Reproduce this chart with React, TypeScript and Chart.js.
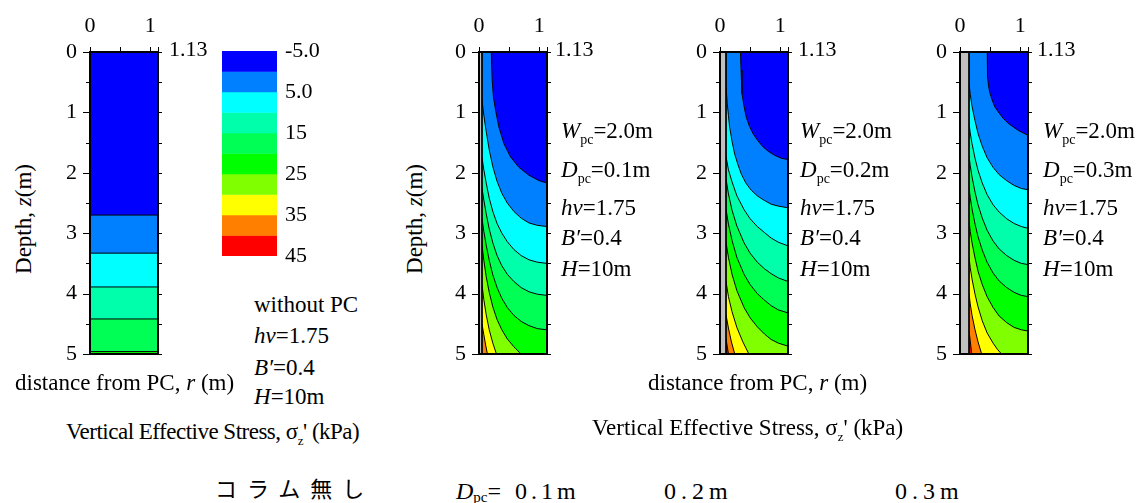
import React, { useEffect, useRef } from 'react';
import { Chart, registerables } from 'chart.js';

Chart.register(...registerables);

const SERIF = '"Liberation Serif", "Times New Roman", serif';
const CJK = '"Noto Sans CJK JP", sans-serif';
Chart.defaults.font.family = SERIF;

// ---------- axes ----------
const R_MAX = 1.13;
const Z_MAX = 5;
const xTickValues = [0, 0.5, 1, 1.13];
const xLabelValues = [0, 1];
const yTickValues = [0, 0.5, 1, 1.5, 2, 2.5, 3, 3.5, 4, 4.5, 5];

// ---------- colour scale (kPa) ----------
const bandEdges = [-5, 0, 5, 10, 15, 20, 25, 30, 35, 40, 45];
const bandColors = ['#0000ff', '#0080ff', '#00ffff', '#00ffaa', '#00ff55', '#00ff00', '#80ff00', '#ffff00', '#ff8000', '#ff0000'];
const legendTickValues = [-5, 5, 15, 25, 35, 45];
const legendTickLabels = ['-5.0', '5.0', '15', '25', '35', '45'];

// ---------- panel 1: without PC (depths of band boundaries, m) ----------
const noPcDepths = [2.70, 3.33, 3.89, 4.42, 4.96];

// ---------- PC radii (m) ----------
const pc01Radius = 0.05;
const pc02Radius = 0.1;
const pc03Radius = 0.15;

// ---------- contour lines [r, z] : Dpc = 0.1 m ----------
const pc01L0 = [[0.205, 0], [0.21, 0.2], [0.218, 0.45], [0.24, 0.75], [0.277, 0.97], [0.33, 1.24], [0.415, 1.52], [0.526, 1.74], [0.664, 1.91], [0.83, 2.04], [1.0, 2.13], [1.13, 2.17]];
const pc01L5 = [[0.05, 0.8], [0.08, 1.05], [0.12, 1.32], [0.17, 1.62], [0.23, 1.9], [0.3, 2.14], [0.38, 2.34], [0.47, 2.5], [0.58, 2.64], [0.7, 2.75], [0.83, 2.83], [0.97, 2.87], [1.13, 2.89]];
const pc01L10 = [[0.05, 1.75], [0.08, 1.95], [0.12, 2.17], [0.17, 2.42], [0.23, 2.64], [0.3, 2.84], [0.38, 3.0], [0.47, 3.14], [0.58, 3.27], [0.7, 3.37], [0.83, 3.44], [0.97, 3.48], [1.13, 3.5]];
const pc01L15 = [[0.05, 2.25], [0.08, 2.45], [0.12, 2.68], [0.17, 2.93], [0.23, 3.16], [0.3, 3.37], [0.38, 3.54], [0.47, 3.68], [0.58, 3.8], [0.7, 3.9], [0.83, 3.97], [0.97, 4.01], [1.13, 4.03]];
const pc01L20 = [[0.05, 2.75], [0.08, 2.97], [0.12, 3.2], [0.17, 3.45], [0.23, 3.69], [0.3, 3.9], [0.38, 4.08], [0.47, 4.23], [0.58, 4.36], [0.7, 4.46], [0.83, 4.53], [0.97, 4.58], [1.13, 4.6]];
const pc01L25 = [[0.05, 3.2], [0.08, 3.45], [0.12, 3.72], [0.17, 3.98], [0.23, 4.22], [0.3, 4.43], [0.38, 4.6], [0.47, 4.75], [0.58, 4.88], [0.7, 5.0]];
const pc01L30 = [[0.05, 3.85], [0.08, 4.1], [0.12, 4.35], [0.17, 4.6], [0.23, 4.82], [0.29, 5.0]];
const pc01L35 = [[0.05, 4.5], [0.08, 4.68], [0.11, 4.85], [0.14, 5.0]];

// ---------- contour lines [r, z] : Dpc = 0.2 m ----------
const pc02L0 = [[0.34, 0], [0.35, 0.3], [0.365, 0.69], [0.4, 0.9], [0.437, 1.08], [0.49, 1.23], [0.548, 1.35], [0.63, 1.47], [0.714, 1.57], [0.81, 1.65], [0.908, 1.71], [1.02, 1.76], [1.13, 1.78]];
const pc02L5 = [[0.1, 0.58], [0.12, 0.85], [0.14, 1.05], [0.16, 1.24], [0.2, 1.48], [0.244, 1.69], [0.3, 1.87], [0.354, 2.02], [0.43, 2.17], [0.52, 2.29], [0.63, 2.39], [0.742, 2.46], [0.85, 2.52], [0.963, 2.55], [1.13, 2.58]];
const pc02L10 = [[0.1, 1.73], [0.14, 1.95], [0.2, 2.15], [0.28, 2.38], [0.4, 2.61], [0.5, 2.76], [0.62, 2.89], [0.74, 2.99], [0.85, 3.08], [0.97, 3.15], [1.13, 3.21]];
const pc02L15 = [[0.1, 2.1], [0.14, 2.35], [0.2, 2.62], [0.28, 2.88], [0.4, 3.16], [0.5, 3.33], [0.62, 3.48], [0.74, 3.59], [0.85, 3.67], [0.97, 3.74], [1.13, 3.8]];
const pc02L20 = [[0.1, 2.6], [0.14, 2.85], [0.2, 3.12], [0.28, 3.4], [0.4, 3.68], [0.5, 3.85], [0.62, 4.0], [0.74, 4.11], [0.85, 4.2], [0.97, 4.27], [1.13, 4.32]];
const pc02L25 = [[0.1, 3.15], [0.14, 3.4], [0.2, 3.68], [0.28, 3.95], [0.4, 4.23], [0.5, 4.4], [0.62, 4.55], [0.74, 4.67], [0.85, 4.76], [0.97, 4.82], [1.13, 4.87]];
const pc02L30 = [[0.1, 3.8], [0.14, 4.05], [0.2, 4.3], [0.28, 4.56], [0.38, 4.8], [0.48, 5.0]];
const pc02L35 = [[0.1, 4.35], [0.14, 4.57], [0.19, 4.8], [0.245, 5.0]];
const pc02L40 = [[0.1, 4.75], [0.12, 4.87], [0.14, 5.0]];

// ---------- contour lines [r, z] : Dpc = 0.3 m ----------
const pc03L0 = [[0.453, 0], [0.455, 0.2], [0.46, 0.41], [0.475, 0.57], [0.5, 0.69], [0.54, 0.81], [0.58, 0.91], [0.65, 1.01], [0.72, 1.1], [0.8, 1.18], [0.886, 1.24], [0.97, 1.3], [1.05, 1.34], [1.13, 1.38]];
const pc03L5 = [[0.15, 0.52], [0.17, 0.7], [0.2, 0.9], [0.25, 1.14], [0.3, 1.35], [0.37, 1.56], [0.45, 1.75], [0.55, 1.91], [0.65, 2.03], [0.775, 2.13], [0.9, 2.21], [1.02, 2.26], [1.13, 2.28]];
const pc03L10 = [[0.15, 1.18], [0.17, 1.34], [0.2, 1.52], [0.25, 1.76], [0.3, 1.96], [0.37, 2.17], [0.45, 2.36], [0.55, 2.53], [0.65, 2.65], [0.775, 2.76], [0.9, 2.84], [1.02, 2.89], [1.13, 2.92]];
const pc03L15 = [[0.15, 1.72], [0.17, 1.88], [0.2, 2.07], [0.25, 2.32], [0.3, 2.53], [0.37, 2.75], [0.45, 2.95], [0.55, 3.13], [0.65, 3.26], [0.775, 3.37], [0.9, 3.45], [1.02, 3.5], [1.13, 3.52]];
const pc03L20 = [[0.15, 2.25], [0.17, 2.41], [0.2, 2.6], [0.25, 2.85], [0.3, 3.06], [0.37, 3.28], [0.45, 3.48], [0.55, 3.66], [0.65, 3.79], [0.775, 3.9], [0.9, 3.98], [1.02, 4.03], [1.13, 4.05]];
const pc03L25 = [[0.15, 2.8], [0.17, 2.97], [0.2, 3.16], [0.25, 3.41], [0.3, 3.63], [0.37, 3.85], [0.45, 4.05], [0.55, 4.23], [0.65, 4.37], [0.775, 4.48], [0.9, 4.56], [1.02, 4.6], [1.13, 4.62]];
const pc03L30 = [[0.15, 3.4], [0.17, 3.57], [0.2, 3.76], [0.25, 4.01], [0.3, 4.22], [0.37, 4.45], [0.45, 4.65], [0.55, 4.82], [0.62, 4.92], [0.69, 5.0]];
const pc03L35 = [[0.15, 4.0], [0.17, 4.17], [0.2, 4.36], [0.25, 4.6], [0.3, 4.8], [0.36, 5.0]];
const pc03L40 = [[0.15, 4.62], [0.17, 4.78], [0.195, 5.0]];

const pc01Contours = [pc01L0, pc01L5, pc01L10, pc01L15, pc01L20, pc01L25, pc01L30, pc01L35];
const pc02Contours = [pc02L0, pc02L5, pc02L10, pc02L15, pc02L20, pc02L25, pc02L30, pc02L35, pc02L40];
const pc03Contours = [pc03L0, pc03L5, pc03L10, pc03L15, pc03L20, pc03L25, pc03L30, pc03L35, pc03L40];

const panelDpcLabels = ['0.1m', '0.2m', '0.3m'];

type Pt = { x: number; y: number };

const toPts = (arr: number[][]): Pt[] => arr.map(([r, z]) => ({ x: r, y: z }));

function regionOf(arr: number[][], rPC: number): Pt[] {
  const poly = toPts(arr);
  const first = arr[0];
  const last = arr[arr.length - 1];
  if (last[0] >= R_MAX - 1e-9) poly.push({ x: R_MAX, y: Z_MAX });
  poly.push({ x: rPC, y: Z_MAX });
  if (first[1] <= 1e-9 && first[0] > rPC) poly.push({ x: rPC, y: 0 });
  return poly;
}

const tickFont = { family: SERIF, size: 22 };

const framePlugin = {
  id: 'frameTicks',
  afterDraw(chart: any) {
    const { ctx, chartArea: a, scales } = chart;
    const x = scales.x;
    const y = scales.y;
    ctx.save();
    ctx.strokeStyle = '#000';
    ctx.lineWidth = 1;
    ctx.beginPath();
    for (const v of yTickValues) {
      const py = Math.round(y.getPixelForValue(v)) + 0.5;
      const major = Number.isInteger(v);
      ctx.moveTo(a.left - (major ? 7 : 4), py);
      ctx.lineTo(a.left, py);
      ctx.moveTo(a.right, py);
      ctx.lineTo(a.right + 4, py);
    }
    for (const v of xTickValues) {
      const px = Math.round(x.getPixelForValue(v)) + 0.5;
      ctx.moveTo(px, a.top);
      ctx.lineTo(px, a.top - 5);
    }
    ctx.stroke();
    ctx.lineWidth = 2;
    ctx.strokeRect(a.left, a.top, a.right - a.left, a.bottom - a.top);
    ctx.restore();
  },
};

const PANEL_TOP = 52;
const PANEL_BOTTOM = 354;
const PANEL_W = 68;
const Y_AXIS_W = 45;
const PAD_RIGHT = 24;
const PAD_BOTTOM = 30;

function ContourPanel({ left, rPC, contours }: { left: number; rPC: number; contours: number[][][] }) {
  const ref = useRef<HTMLCanvasElement>(null);
  const cw = Y_AXIS_W + PANEL_W + PAD_RIGHT;
  const ch = PANEL_BOTTOM + PAD_BOTTOM;
  useEffect(() => {
    const datasets: any[] = [];
    datasets.push({
      data: [{ x: rPC, y: 0 }, { x: R_MAX, y: 0 }, { x: R_MAX, y: Z_MAX }, { x: rPC, y: Z_MAX }],
      fill: 'shape', backgroundColor: bandColors[0], borderColor: 'rgba(0,0,0,0)', borderWidth: 0, order: 1000,
    });
    contours.forEach((c, k) => {
      datasets.push({
        data: regionOf(c, rPC), fill: 'shape', backgroundColor: bandColors[k + 1],
        borderColor: 'rgba(0,0,0,0)', borderWidth: 0, order: 900 - k,
      });
    });
    contours.forEach((c) => {
      datasets.push({ data: toPts(c), fill: false, borderColor: '#000', borderWidth: 1, order: 20 });
    });
    if (rPC > 0) {
      datasets.push({
        data: [{ x: 0, y: 0 }, { x: rPC, y: 0 }, { x: rPC, y: Z_MAX }, { x: 0, y: Z_MAX }],
        fill: 'shape', backgroundColor: '#c0c0c0', borderColor: '#000', borderWidth: 1, order: 5,
      });
    }
    const chart = new Chart(ref.current as HTMLCanvasElement, {
      type: 'line',
      data: { datasets },
      options: {
        responsive: false,
        animation: false,
        devicePixelRatio: 1,
        events: [],
        layout: { padding: { left: 0, top: 0, right: PAD_RIGHT, bottom: PAD_BOTTOM }, autoPadding: false },
        elements: { point: { radius: 0 }, line: { tension: 0 } },
        plugins: { legend: { display: false }, tooltip: { enabled: false } },
        scales: {
          x: {
            type: 'linear', position: 'top', min: 0, max: R_MAX,
            grid: { display: false, drawTicks: false }, border: { display: false },
            afterBuildTicks: (s: any) => { s.ticks = xTickValues.map((v) => ({ value: v })); },
            afterFit: (s: any) => { s.height = PANEL_TOP; },
            ticks: {
              autoSkip: false, maxRotation: 0, padding: 13, font: tickFont, color: '#000',
              callback: (v: any) => (xLabelValues.includes(Number(v)) ? String(v) : ''),
            },
          },
          y: {
            type: 'linear', reverse: true, min: 0, max: Z_MAX,
            grid: { display: false, drawTicks: false }, border: { display: false },
            afterBuildTicks: (s: any) => { s.ticks = yTickValues.map((v) => ({ value: v })); },
            afterFit: (s: any) => { s.width = Y_AXIS_W; },
            ticks: {
              autoSkip: false, padding: 13, font: tickFont, color: '#000',
              callback: (v: any) => (Number.isInteger(Number(v)) ? String(v) : ''),
            },
          },
        },
      } as any,
      plugins: [framePlugin],
    });
    return () => chart.destroy();
  }, []);
  return (
    <canvas ref={ref} width={cw} height={ch}
      style={{ position: 'absolute', left: left - Y_AXIS_W, top: 0, width: cw, height: ch }} />
  );
}

function ColorLegend() {
  const ref = useRef<HTMLCanvasElement>(null);
  const L = 222, T = 51, W = 55, H = 205;
  const pl = 10, pt = 30, pb = 30, axisW = 60;
  const cw = pl + W + axisW;
  const ch = pt + H + pb;
  useEffect(() => {
    const chart = new Chart(ref.current as HTMLCanvasElement, {
      type: 'bar',
      data: {
        labels: [''],
        datasets: bandColors.map((c, i) => ({
          data: [[bandEdges[i], bandEdges[i + 1]]],
          backgroundColor: c, borderWidth: 0, grouped: false,
          barPercentage: 1, categoryPercentage: 1,
        })),
      },
      options: {
        responsive: false,
        animation: false,
        devicePixelRatio: 1,
        events: [],
        layout: { padding: { left: pl, top: pt, right: 0, bottom: pb }, autoPadding: false },
        plugins: { legend: { display: false }, tooltip: { enabled: false } },
        scales: {
          x: { display: false },
          y: {
            position: 'right', min: -5, max: 45, reverse: true,
            grid: { display: false, drawTicks: false }, border: { display: false },
            afterBuildTicks: (s: any) => { s.ticks = legendTickValues.map((v) => ({ value: v })); },
            afterFit: (s: any) => { s.width = axisW; },
            ticks: {
              autoSkip: false, padding: 8, font: tickFont, color: '#000',
              callback: (_v: any, i: number) => legendTickLabels[i],
            },
          },
        },
      } as any,
    });
    return () => chart.destroy();
  }, []);
  return (
    <canvas ref={ref} width={cw} height={ch}
      style={{ position: 'absolute', left: L - pl, top: T - pt, width: cw, height: ch }} />
  );
}

function Txt({ x, y, size = 23, children, style }: any) {
  return (
    <div style={{
      position: 'absolute', left: x, top: y - 0.8375 * size, fontSize: size, lineHeight: 1,
      fontFamily: SERIF, whiteSpace: 'nowrap', color: '#000', ...style,
    }}>{children}</div>
  );
}

const Sub = ({ children, size = 14, drop = 6 }: any) => (
  <span style={{ fontSize: size, position: 'relative', top: drop, fontStyle: 'normal' }}>{children}</span>
);

function DepthTitle({ cx, cy }: { cx: number; cy: number }) {
  return (
    <div style={{
      position: 'absolute', left: cx, top: cy, transform: 'translate(-50%, -50%) rotate(-90deg)',
      fontFamily: SERIF, fontSize: 23, lineHeight: 1, whiteSpace: 'nowrap',
    }}>Depth, <i>z</i>(m)</div>
  );
}

function Params({ x, d }: { x: number; d: string }) {
  return (
    <>
      <Txt x={x} y={138}><i>W</i><Sub>pc</Sub>=2.0m</Txt>
      <Txt x={x} y={177}><i>D</i><Sub>pc</Sub>={d}</Txt>
      <Txt x={x} y={215}><i>hv</i>=1.75</Txt>
      <Txt x={x} y={245}><i>B′</i>=0.4</Txt>
      <Txt x={x} y={276}><i>H</i>=10m</Txt>
    </>
  );
}

const StressTitle = ({ x, y, spacing }: { x: number; y: number; spacing: number }) => (
  <Txt x={x} y={y} style={{ letterSpacing: spacing }}>
    Vertical Effective Stress, σ<Sub size={13} drop={6}>z</Sub>' (kPa)
  </Txt>
);

const DistTitle = ({ x, y }: { x: number; y: number }) => (
  <Txt x={x} y={y}>distance from PC, <i>r</i> (m)</Txt>
);

export default function App() {
  const noPcContours = noPcDepths.map((z) => [[0, z], [R_MAX, z]]);
  return (
    <div style={{ position: 'absolute', left: 0, top: 0, width: 1137, height: 503, background: '#fff', overflow: 'hidden' }}>
      <ContourPanel left={90} rPC={0} contours={noPcContours} />
      <ContourPanel left={479} rPC={pc01Radius} contours={pc01Contours} />
      <ContourPanel left={720} rPC={pc02Radius} contours={pc02Contours} />
      <ContourPanel left={960} rPC={pc03Radius} contours={pc03Contours} />
      <ColorLegend />

      <Txt x={169} y={56} size={22}>1.13</Txt>
      <Txt x={555} y={56} size={22}>1.13</Txt>
      <Txt x={798} y={56} size={22}>1.13</Txt>
      <Txt x={1037} y={56} size={22}>1.13</Txt>

      <DepthTitle cx={23} cy={219} />
      <DepthTitle cx={414} cy={219} />

      <Txt x={254} y={312}>without PC</Txt>
      <Txt x={254} y={343}><i>hv</i>=1.75</Txt>
      <Txt x={254} y={375}><i>B′</i>=0.4</Txt>
      <Txt x={254} y={404}><i>H</i>=10m</Txt>

      <DistTitle x={15} y={390} />
      <StressTitle x={66} y={439} spacing={-0.5} />
      <DistTitle x={648} y={390} />
      <StressTitle x={592} y={435} spacing={0} />

      <Params x={561} d={panelDpcLabels[0]} />
      <Params x={800} d={panelDpcLabels[1]} />
      <Params x={1043} d={panelDpcLabels[2]} />

      <div style={{ position: 'absolute', left: 215, top: 476, fontFamily: CJK, fontSize: 22, lineHeight: 1, letterSpacing: 10, whiteSpace: 'nowrap' }}>コラム無し</div>
      <Txt x={456} y={499} size={24}><i>D</i><Sub size={15} drop={3}>pc</Sub><span style={{ letterSpacing: 4 }}>= {panelDpcLabels[0]}</span></Txt>
      <Txt x={664} y={499} size={24} style={{ letterSpacing: 5 }}>{panelDpcLabels[1]}</Txt>
      <Txt x={895} y={499} size={24} style={{ letterSpacing: 5 }}>{panelDpcLabels[2]}</Txt>
    </div>
  );
}
